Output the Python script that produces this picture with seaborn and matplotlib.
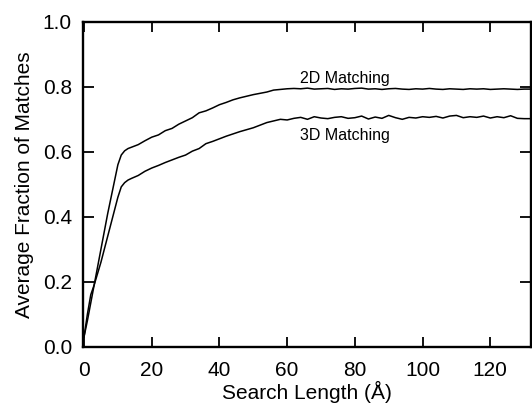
import pandas as pd
import matplotlib
matplotlib.use("Agg")
import matplotlib.pyplot as plt
import seaborn as sns

# Values
x_2d = [0, 1, 2, 3, 4, 5, 6, 7, 8, 9, 10, 11, 12, 13, 14, 16, 18, 20, 22, 24, 26, 28,
        30, 32, 34, 36, 38, 40, 42, 44, 46, 48, 50, 52, 54, 56, 58, 60, 62, 64, 66, 68,
        70, 72, 74, 76, 78, 80, 82, 84, 86, 88, 90, 92, 94, 96, 98, 100, 102, 104, 106,
        108, 110, 112, 114, 116, 118, 120, 122, 124, 126, 128, 130, 132]
y_2d = [0.03, 0.08, 0.135, 0.19, 0.245, 0.30, 0.355, 0.41, 0.46, 0.51, 0.56, 0.59, 0.603,
        0.61, 0.614, 0.622, 0.634, 0.645, 0.652, 0.665, 0.672, 0.685, 0.695, 0.705, 0.72,
        0.726, 0.735, 0.745, 0.752, 0.76, 0.766, 0.771, 0.776, 0.780, 0.784, 0.790, 0.792,
        0.794, 0.795, 0.794, 0.796, 0.793, 0.794, 0.795, 0.792, 0.794, 0.793, 0.795, 0.796,
        0.793, 0.794, 0.792, 0.794, 0.795, 0.793, 0.792, 0.794, 0.793, 0.795, 0.793, 0.792,
        0.794, 0.793, 0.792, 0.794, 0.793, 0.794, 0.792, 0.793, 0.794, 0.793, 0.792, 0.793,
        0.793]

x_3d = x_2d
y_3d = [0.03, 0.10, 0.16, 0.19, 0.225, 0.26, 0.30, 0.34, 0.38, 0.42, 0.46, 0.492, 0.505,
        0.513, 0.518, 0.527, 0.540, 0.550, 0.558, 0.567, 0.575, 0.583, 0.590, 0.602, 0.610,
        0.625, 0.632, 0.640, 0.648, 0.655, 0.662, 0.668, 0.674, 0.682, 0.690, 0.695, 0.700,
        0.698, 0.703, 0.706, 0.700, 0.708, 0.704, 0.702, 0.706, 0.708, 0.703, 0.705, 0.710,
        0.701, 0.707, 0.703, 0.712, 0.705, 0.700, 0.706, 0.704, 0.708, 0.706, 0.709, 0.704,
        0.710, 0.712, 0.705, 0.708, 0.706, 0.710, 0.704, 0.708, 0.705, 0.711, 0.703, 0.702,
        0.702]

x_ticks = [0, 20, 40, 60, 80, 100, 120]
y_ticks = [0.0, 0.2, 0.4, 0.6, 0.8, 1.0]

df = pd.concat([
    pd.DataFrame({"length": x_2d, "fraction": y_2d, "method": "2D Matching"}),
    pd.DataFrame({"length": x_3d, "fraction": y_3d, "method": "3D Matching"}),
])

sns.set_style("ticks")
plt.rcParams["font.family"] = ["Liberation Sans", "DejaVu Sans"]
plt.rcParams["text.color"] = "black"
plt.rcParams["axes.labelcolor"] = "black"

fig = plt.figure(figsize=(5.32, 4.05), dpi=100)
ax = fig.add_axes([0.156, 0.144, 0.842, 0.802])

sns.lineplot(data=df, x="length", y="fraction", hue="method",
             palette=["black", "black"], linewidth=1.1, legend=False, ax=ax)

ax.text(77, 0.827, "2D Matching", fontsize=11.5, ha="center", va="center", color="black")
ax.text(77, 0.650, "3D Matching", fontsize=11.5, ha="center", va="center", color="black")

ax.set_xlim(-0.3, 132)
ax.set_ylim(0, 1.0)
ax.set_xticks(x_ticks)
ax.set_yticks(y_ticks)
ax.set_yticklabels([f"{v:.1f}" for v in y_ticks])

for side in ["left", "right", "top", "bottom"]:
    ax.spines[side].set_visible(True)
    ax.spines[side].set_linewidth(1.7)
    ax.spines[side].set_color("black")

ax.tick_params(axis="x", direction="in", length=7.5, width=1.3, top=True,
               labelsize=15, pad=10, colors="black")
ax.tick_params(axis="y", direction="in", length=8, width=1.3, right=True,
               labelsize=15, pad=8, colors="black")

ax.set_xlabel("Search Length (Å)", fontsize=15, labelpad=1, color="black")
ax.set_ylabel("Average Fraction of Matches", fontsize=15, labelpad=6, color="black")

fig.savefig("out.png", dpi=100)
